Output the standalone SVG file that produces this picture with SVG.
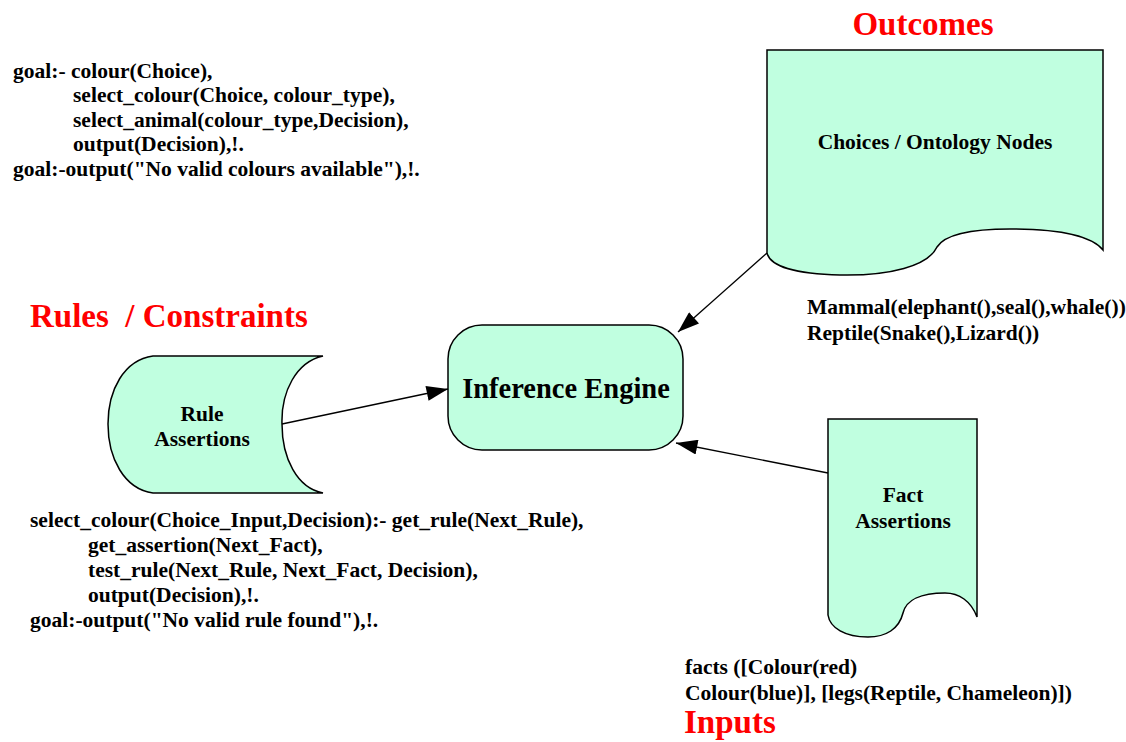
<svg xmlns="http://www.w3.org/2000/svg" width="1126" height="742" viewBox="0 0 1126 742">
<style>
text{font-family:"Liberation Serif","Times New Roman",serif;font-weight:bold;fill:#000}
.code{font-size:21.5px}
.lab{font-size:21.5px}
.title{font-size:33px;fill:#ff0000}
.shape{fill:#c0ffe0;stroke:#000;stroke-width:1.5}
.conn{stroke:#000;stroke-width:1.3;fill:none}
</style>
<defs>
<marker id="arrL" viewBox="0 0 20 14" refX="20" refY="7" markerWidth="22" markerHeight="15" markerUnits="userSpaceOnUse" orient="auto">
<path d="M0,0 L20,7 L0,14 Z" fill="#000"/>
</marker>
</defs>
<rect width="1126" height="742" fill="#fff"/>

<g id="code-goal">
<text class="code" x="13" y="78">goal:- colour(Choice),</text>
<text class="code" x="73" y="102">select_colour(Choice, colour_type),</text>
<text class="code" x="73" y="127">select_animal(colour_type,Decision),</text>
<text class="code" x="73" y="151">output(Decision),!.</text>
<text class="code" x="13" y="176">goal:-output("No valid colours available"),!.</text>
</g>

<g id="title-outcomes"><text class="title" x="923" y="35" text-anchor="middle">Outcomes</text></g>
<g id="title-rules"><text class="title" x="30" y="327" xml:space="preserve">Rules  / Constraints</text></g>
<g id="title-inputs"><text class="title" x="684" y="733">Inputs</text></g>

<g id="outcomes-node">
<path class="shape" d="M767,50 L1103,50 L1103,250 C1090,234 1050,229 1010,229 C965,229 944,236 937,247 C928,266 890,276 840,275 C795,274 770,266 767,253 Z"/>
<text class="lab" x="935" y="149" text-anchor="middle">Choices / Ontology Nodes</text>
</g>

<g id="outcomes-text">
<text class="code" x="807" y="314">Mammal(elephant(),seal(),whale())</text>
<text class="code" x="807" y="340">Reptile(Snake(),Lizard())</text>
</g>

<g id="inference-engine">
<rect class="shape" x="448" y="325" width="235" height="125" rx="34" ry="34"/>
<text x="566" y="398" text-anchor="middle" style="font-size:28.5px">Inference Engine</text>
</g>

<g id="rule-assertions">
<path class="shape" d="M153,356 L323,356 C296,362 281,392 282,424 C282,458 297,488 323,493 L153,493 C124,489 108,458 108,424 C108,390 124,360 153,356 Z"/>
<text class="lab" x="202" y="421" text-anchor="middle">Rule</text>
<text class="lab" x="202" y="446" text-anchor="middle">Assertions</text>
</g>

<g id="fact-assertions">
<path class="shape" d="M828,419 L977,419 L977,617 C971,601 959,593 945,593 C921,593 906,600 903,613 C899,629 886,637 868,637 C845,637 830,628 828,615 Z"/>
<text class="lab" x="903" y="502" text-anchor="middle">Fact</text>
<text class="lab" x="903" y="528" text-anchor="middle">Assertions</text>
</g>

<g id="code-select">
<text class="code" x="30" y="527">select_colour(Choice_Input,Decision):- get_rule(Next_Rule),</text>
<text class="code" x="88" y="552">get_assertion(Next_Fact),</text>
<text class="code" x="88" y="577">test_rule(Next_Rule, Next_Fact, Decision),</text>
<text class="code" x="88" y="602">output(Decision),!.</text>
<text class="code" x="30" y="627">goal:-output("No valid rule found"),!.</text>
</g>

<g id="facts-text">
<text class="code" x="685" y="674">facts ([Colour(red)</text>
<text class="code" x="685" y="700">Colour(blue)], [legs(Reptile, Chameleon)])</text>
</g>

<g id="connectors">
<line class="conn" x1="282" y1="424" x2="448" y2="389" marker-end="url(#arrL)"/>
<line class="conn" x1="767" y1="253" x2="678" y2="332" marker-end="url(#arrL)"/>
<line class="conn" x1="828" y1="473" x2="676" y2="443" marker-end="url(#arrL)"/>
</g>
</svg>
